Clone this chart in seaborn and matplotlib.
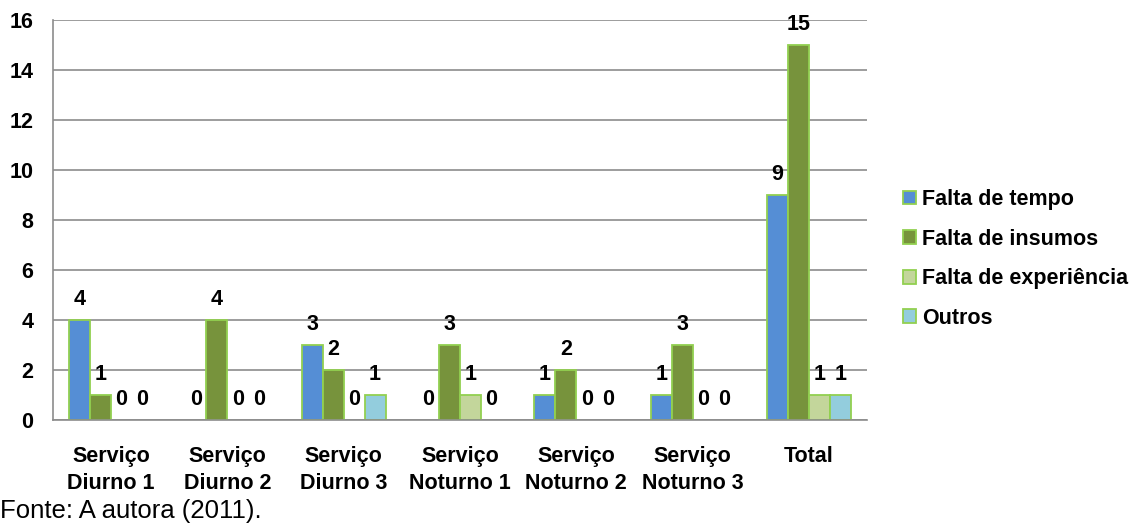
import matplotlib
matplotlib.use("Agg")
import matplotlib.pyplot as plt
import seaborn as sns
import pandas as pd
from matplotlib.patches import Patch
from matplotlib.ticker import FixedLocator

categories = ["Serviço\nDiurno 1", "Serviço\nDiurno 2", "Serviço\nDiurno 3",
              "Serviço\nNoturno 1", "Serviço\nNoturno 2", "Serviço\nNoturno 3", "Total"]
series = ["Falta de tempo", "Falta de insumos", "Falta de experiência", "Outros"]
falta_tempo = [4, 0, 3, 0, 1, 1, 9]
falta_insumos = [1, 4, 2, 3, 2, 3, 15]
falta_experiencia = [0, 0, 0, 1, 0, 0, 1]
outros = [0, 0, 1, 0, 0, 0, 1]
y_ticks = [0, 2, 4, 6, 8, 10, 12, 14, 16]

colors = ["#558ED5", "#77933C", "#C3D69B", "#93CDDD"]
edge = "#92D050"
grid_gray = "#8C8C8C"
FS = 15.5

values = [falta_tempo, falta_insumos, falta_experiencia, outros]
rows = []
for s, vals in zip(series, values):
    for c, v in zip(categories, vals):
        rows.append({"cat": c, "serie": s, "valor": v})
df = pd.DataFrame(rows)

sns.set_theme(style="white")
plt.rcParams["font.family"] = ["Liberation Sans", "DejaVu Sans"]
plt.rcParams["text.color"] = "black"
plt.rcParams["xtick.labelcolor"] = "black"
plt.rcParams["ytick.labelcolor"] = "black"

fig = plt.figure(figsize=(11.41, 5.23), dpi=100)
ax = fig.add_axes([53/1141, 1-420/523, (867-53)/1141, 400/523])

sns.barplot(data=df, x="cat", y="valor", hue="serie", order=categories,
            hue_order=series, palette=colors, width=0.72, gap=0, saturation=1,
            edgecolor=edge, linewidth=1.3, ax=ax, legend=False, errorbar=None)

ax.set_ylim(0, 16)
ax.set_xlim(-0.5, len(categories) - 0.5)
ax.set_yticks(y_ticks)
ax.set_yticklabels([str(t) for t in y_ticks], fontsize=FS, fontweight="bold", color="black")
ax.yaxis.grid(True, color=grid_gray, linewidth=1.2)
ax.set_axisbelow(True)
ax.set_xlabel("")
ax.set_ylabel("")
ax.set_xticks(range(len(categories)))
ax.set_xticklabels(categories, fontsize=FS, fontweight="bold", linespacing=1.35, color="black")
ax.tick_params(axis="x", which="major", length=0, pad=19)
ax.xaxis.set_minor_locator(FixedLocator([i - 0.5 for i in range(len(categories) + 1)]))
ax.tick_params(axis="x", which="minor", length=6, color=grid_gray, width=1.2, direction="out")
ax.tick_params(axis="y", length=4, color=grid_gray, width=1.2, direction="out", pad=10)
for side in ["top", "right"]:
    ax.spines[side].set_visible(False)
for side in ["left", "bottom"]:
    ax.spines[side].set_color(grid_gray)
    ax.spines[side].set_linewidth(1.2)

for cont in ax.containers:
    for bar in cont:
        h = bar.get_height()
        if h == 0:
            bar.set_edgecolor("none")
        ax.annotate(f"{int(round(h))}", (bar.get_x() + bar.get_width() / 2, h),
                    xytext=(0, 15), textcoords="offset points",
                    ha="center", va="center", fontsize=FS, fontweight="bold", color="black")

handles = [Patch(facecolor=c, edgecolor=edge, linewidth=1.3, label=s) for c, s in zip(colors, series)]
fig.legend(handles=handles, loc="center left", bbox_to_anchor=(903/1141, 1-259/523),
           frameon=False, prop={"weight": "bold", "size": FS},
           handlelength=0.6, handleheight=0.6, handletextpad=0.3, labelspacing=0.86,
           borderaxespad=0, borderpad=0)

fig.text(0/1141, 1-518/523, "Fonte: A autora (2011).", fontsize=18.5, ha="left", va="baseline", color="black")

fig.savefig("out.png", dpi=100)
